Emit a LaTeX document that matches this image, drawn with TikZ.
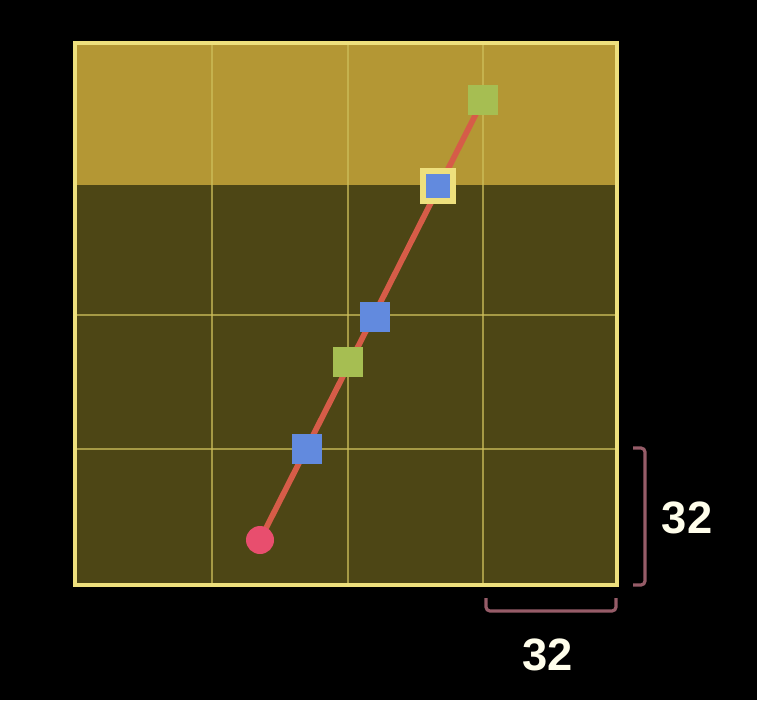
\documentclass[tikz,border=0pt]{standalone}
\usepackage{fontspec}
\setmainfont{Liberation Sans}
\usepackage{xcolor}

\definecolor{bandgold}{RGB}{180,151,52}
\definecolor{cellolive}{RGB}{77,70,21}
\definecolor{rimyellow}{RGB}{238,224,125}
\definecolor{gridyellow}{RGB}{205,190,90}
\definecolor{pathred}{RGB}{214,92,72}
\definecolor{hitblue}{RGB}{98,138,222}
\definecolor{stepgreen}{RGB}{166,190,82}
\definecolor{originpink}{RGB}{232,78,110}
\definecolor{bracketrose}{RGB}{150,92,104}

\pgfdeclarelayer{board}
\pgfdeclarelayer{ray}
\pgfsetlayers{board,ray,main}

\begin{document}
\begin{tikzpicture}[x=0.75pt,y=0.75pt,yscale=-1,xscale=1,
  gridline/.style={draw=gridyellow, draw opacity=0.7, line width=1.3pt},
  hitbox/.style={rectangle, fill=hitblue, minimum size=22.5pt, inner sep=0pt},
  stepbox/.style={rectangle, fill=stepgreen, minimum size=22.5pt, inner sep=0pt},
  brace/.style={draw=bracketrose, line width=2.4pt, rounded corners=3pt},
  sizelabel/.style={text=white!92!yellow, font=\fontsize{34}{38}\selectfont\bfseries}]

\begin{pgfonlayer}{board}
%Shape: Rectangle [id:background]
\fill [black] (0,0) rectangle (757,700) ;

%Shape: Rectangle [id:dark cells]
\fill [cellolive] (75,43) rectangle (617,585) ;
%Shape: Rectangle [id:bright band]
\fill [bandgold] (75,43) rectangle (617,185) ;

%Straight Lines [id:vertical grid]
\draw [gridline]   (212,43) -- (212,585) ;
\draw [gridline]   (348,43) -- (348,585) ;
\draw [gridline]   (483,43) -- (483,585) ;
%Straight Lines [id:horizontal grid]
\draw [gridline]   (75,315) -- (617,315) ;
\draw [gridline]   (75,449) -- (617,449) ;

%Shape: Rectangle [id:outer rim]
\draw [rimyellow, line width=3.2pt] (75,43) rectangle (617,585) ;
\end{pgfonlayer}

% Point Nodes
\node [circle, fill=originpink, minimum size=21pt, inner sep=0pt] (origin) at (260,540) {};
\node [hitbox] (hitA) at (307,449) {};
\node [stepbox] (stepA) at (348,362) {};
\node [hitbox] (hitB) at (375,317) {};
\node [hitbox, draw=rimyellow, line width=4.5pt] (hitC) at (438,186) {};
\node [stepbox] (goal) at (483,100) {};

%Straight Lines [id:ray]
\begin{pgfonlayer}{ray}
\draw [pathred, line width=4.3pt] (origin.center) -- (goal.center) ;
\end{pgfonlayer}

%Straight Lines [id:right brace]
\coordinate (rbTop) at (633,448) ;
\coordinate (rbBot) at (633,585) ;
\draw [brace] (rbTop) -- ++(12,0) |- (rbBot) ;
%Straight Lines [id:bottom brace]
\coordinate (bbLeft) at (486,598) ;
\coordinate (bbRight) at (616,598) ;
\draw [brace] (bbLeft) |- ++(65,13) -| (bbRight) ;

% Text Node
\node [sizelabel] (rowsize) at (687,518) {32};
% Text Node
\node [sizelabel] (colsize) at (548,655) {32};

\end{tikzpicture}
\end{document}
